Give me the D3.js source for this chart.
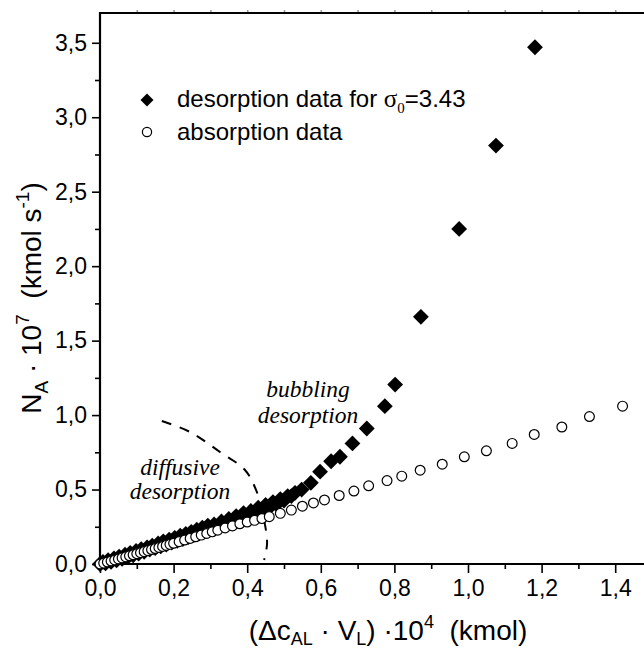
<!DOCTYPE html>
<html>
<head>
<meta charset="utf-8">
<script src="https://cdn.jsdelivr.net/npm/d3@7"></script>
<style>
  body { margin: 0; background: #fff; }
  svg { display: block; }
  text { font-family: "Liberation Sans", Arial, sans-serif; fill: #000; }
  .serif { font-family: "Liberation Serif", "Times New Roman", serif; }
</style>
</head>
<body>
<svg id="chart" width="644" height="652"></svg>
<script>
// desorption data (sigma0 = 3.43)
const desX = [0.000, 0.008, 0.015, 0.022, 0.030, 0.038, 0.045, 0.052, 0.060, 0.068,
  0.075, 0.082, 0.090, 0.098, 0.105, 0.112, 0.120, 0.128, 0.135, 0.142,
  0.150, 0.158, 0.165, 0.172, 0.180, 0.188, 0.195, 0.203, 0.210, 0.218,
  0.225, 0.233, 0.240, 0.248, 0.255, 0.263, 0.270, 0.278, 0.285, 0.293,
  0.300, 0.310, 0.320, 0.330, 0.340, 0.350, 0.360, 0.370, 0.380, 0.390,
  0.400, 0.410, 0.420, 0.430, 0.440, 0.450, 0.460, 0.470, 0.480, 0.490,
  0.500, 0.510, 0.520, 0.530, 0.548, 0.573, 0.598, 0.628, 0.652, 0.686,
  0.725, 0.774, 0.802, 0.872, 0.976, 1.076, 1.182];
const desY = [0.000, 0.014, 0.004, 0.026, 0.014, 0.038, 0.024, 0.050, 0.034, 0.062,
  0.046, 0.074, 0.058, 0.088, 0.070, 0.100, 0.082, 0.112, 0.096, 0.124,
  0.106, 0.138, 0.118, 0.152, 0.130, 0.164, 0.144, 0.176, 0.156, 0.190,
  0.168, 0.202, 0.180, 0.216, 0.194, 0.230, 0.206, 0.244, 0.220, 0.258,
  0.232, 0.266, 0.248, 0.286, 0.264, 0.302, 0.282, 0.322, 0.300, 0.342,
  0.320, 0.356, 0.338, 0.378, 0.356, 0.396, 0.378, 0.416, 0.400, 0.436,
  0.426, 0.456, 0.456, 0.478, 0.500, 0.545, 0.620, 0.690, 0.720, 0.810,
  0.910, 1.060, 1.205, 1.660, 2.250, 2.810, 3.470];

// absorption data
const absX = [0.00, 0.01, 0.02, 0.03, 0.04, 0.05, 0.06, 0.07, 0.08, 0.09,
  0.10, 0.11, 0.12, 0.13, 0.14, 0.15, 0.16, 0.17, 0.18, 0.19,
  0.20, 0.215, 0.23, 0.245, 0.26, 0.275, 0.29, 0.305, 0.32, 0.34,
  0.36, 0.38, 0.40, 0.42, 0.44, 0.46, 0.49, 0.52, 0.55, 0.58,
  0.61, 0.65, 0.69, 0.73, 0.78, 0.82, 0.87, 0.93, 0.99, 1.05,
  1.12, 1.18, 1.255, 1.33, 1.42];
const absY = [0.000, 0.006, 0.013, 0.020, 0.027, 0.034, 0.041, 0.048, 0.055, 0.062,
  0.069, 0.076, 0.083, 0.090, 0.097, 0.104, 0.111, 0.118, 0.125, 0.132,
  0.139, 0.150, 0.161, 0.172, 0.183, 0.194, 0.205, 0.216, 0.227, 0.242,
  0.256, 0.270, 0.282, 0.293, 0.305, 0.318, 0.340, 0.362, 0.388, 0.410,
  0.430, 0.460, 0.490, 0.525, 0.560, 0.590, 0.630, 0.670, 0.720, 0.760,
  0.810, 0.870, 0.920, 0.990, 1.060];

// hand-drawn boundary between the two regimes
const borderX = [0.168, 0.245, 0.326, 0.394, 0.424, 0.443, 0.454, 0.446];
const borderY = [0.960, 0.886, 0.752, 0.631, 0.497, 0.329, 0.141, 0.027];

const xTicks = [0, 0.2, 0.4, 0.6, 0.8, 1.0, 1.2, 1.4];
const yTicks = [0, 0.5, 1.0, 1.5, 2.0, 2.5, 3.0, 3.5];

const svg = d3.select("#chart");
const m = { left: 100, right: 652, top: 13, bottom: 564 };

const x = d3.scaleLinear().domain([0, 1.5]).range([m.left, m.right]);
const y = d3.scaleLinear().domain([0, 3.7]).range([m.bottom, m.top]);
const fmt = d => d3.format(".1f")(d).replace(".", ",");

// axes
const xAxis = svg.append("g").attr("transform", `translate(0,${m.bottom})`)
  .call(d3.axisBottom(x).tickValues(xTicks).tickSize(9).tickPadding(7).tickFormat(fmt));
xAxis.append("g").call(d3.axisBottom(x).tickValues(d3.range(0.1, 1.5, 0.2)).tickSize(5).tickFormat(""));

const yAxis = svg.append("g").attr("transform", `translate(${m.left},0)`)
  .call(d3.axisLeft(y).tickValues(yTicks).tickSize(8).tickPadding(5).tickFormat(fmt));
yAxis.append("g").call(d3.axisLeft(y).tickValues(d3.range(0.25, 3.6, 0.5)).tickSize(5).tickFormat(""));

const topAxis = svg.append("g").attr("transform", `translate(0,${m.top})`)
  .call(d3.axisTop(x).tickValues(d3.range(0.1, 1.5, 0.1)).tickSize(3).tickFormat(""));
topAxis.selectAll(".tick line").attr("stroke", "#999");

svg.selectAll(".domain").remove();
svg.selectAll(".tick line").attr("stroke-width", 1.6);
svg.selectAll(".tick text").attr("font-size", 23).attr("font-family", "Liberation Sans, Arial, sans-serif");

// frame
svg.append("path")
  .attr("d", `M${m.left},${m.bottom}H${m.right}M${m.left},${m.bottom}V${m.top}H${m.right}`)
  .attr("fill", "none").attr("stroke", "#000").attr("stroke-width", 2.2);

// dashed border line
const borderLine = d3.line().x(d => x(d[0])).y(d => y(d[1])).curve(d3.curveCatmullRom);
svg.append("path")
  .attr("d", borderLine(d3.zip(borderX, borderY)))
  .attr("fill", "none").attr("stroke", "#000").attr("stroke-width", 2)
  .attr("stroke-dasharray", "10,9");

// desorption points (diamonds)
const diamond = d3.symbol().type(d3.symbolSquare).size(125);
svg.append("g").selectAll("path").data(d3.zip(desX, desY)).join("path")
  .attr("d", diamond)
  .attr("transform", d => `translate(${x(d[0])},${y(d[1])}) rotate(45)`)
  .attr("fill", "#000");

// absorption points (open circles)
svg.append("g").selectAll("circle").data(d3.zip(absX, absY)).join("circle")
  .attr("cx", d => x(d[0])).attr("cy", d => y(d[1])).attr("r", 4.9)
  .attr("fill", "#fff").attr("stroke", "#000").attr("stroke-width", 1.2);

// legend
const lg = svg.append("g");
lg.append("path").attr("d", d3.symbol().type(d3.symbolSquare).size(85))
  .attr("transform", "translate(147,100) rotate(45)").attr("fill", "#000");
const t1 = lg.append("text").attr("x", 177).attr("y", 107).attr("font-size", 24);
t1.append("tspan").text("desorption data for ");
t1.append("tspan").attr("class", "serif").attr("font-size", 25).text("σ");
t1.append("tspan").attr("class", "serif").attr("font-size", 15).attr("dy", 6).text("0");
t1.append("tspan").attr("dy", -6).text("=3.43");
lg.append("circle").attr("cx", 147).attr("cy", 132).attr("r", 4.6)
  .attr("fill", "#fff").attr("stroke", "#000").attr("stroke-width", 1.2);
lg.append("text").attr("x", 177).attr("y", 140).attr("font-size", 24).text("absorption data");

// annotations
const ann = [["bubbling", 308, 397], ["desorption", 308, 423], ["diffusive", 180, 475], ["desorption", 180, 499]];
svg.append("g").selectAll("text").data(ann).join("text")
  .attr("class", "serif").attr("font-style", "italic").attr("font-size", 23.5)
  .attr("text-anchor", "middle").attr("x", d => d[1]).attr("y", d => d[2]).text(d => d[0]);

// axis titles
const xt = svg.append("text").attr("x", 388).attr("y", 640).attr("text-anchor", "middle").attr("font-size", 28);
xt.append("tspan").text("(Δc");
xt.append("tspan").attr("font-size", 18).attr("dy", 5).text("AL");
xt.append("tspan").attr("dy", -5).text(" · V");
xt.append("tspan").attr("font-size", 18).attr("dy", 5).text("L");
xt.append("tspan").attr("dy", -5).text(") ·10");
xt.append("tspan").attr("font-size", 18).attr("dy", -12).text("4");
xt.append("tspan").attr("dy", 12).text("\u00a0\u00a0(kmol)");

const yt = svg.append("text").attr("transform", "translate(41,298) rotate(-90)")
  .attr("text-anchor", "middle").attr("font-size", 28);
yt.append("tspan").text("N");
yt.append("tspan").attr("font-size", 19).attr("dy", 7).text("A");
yt.append("tspan").attr("dy", -7).text(" · 10");
yt.append("tspan").attr("font-size", 19).attr("dy", -12).text("7");
yt.append("tspan").attr("dy", 12).text("\u00a0\u00a0(kmol s");
yt.append("tspan").attr("font-size", 19).attr("dy", -12).text("-1");
yt.append("tspan").attr("dy", 12).text(")");
</script>
</body>
</html>
